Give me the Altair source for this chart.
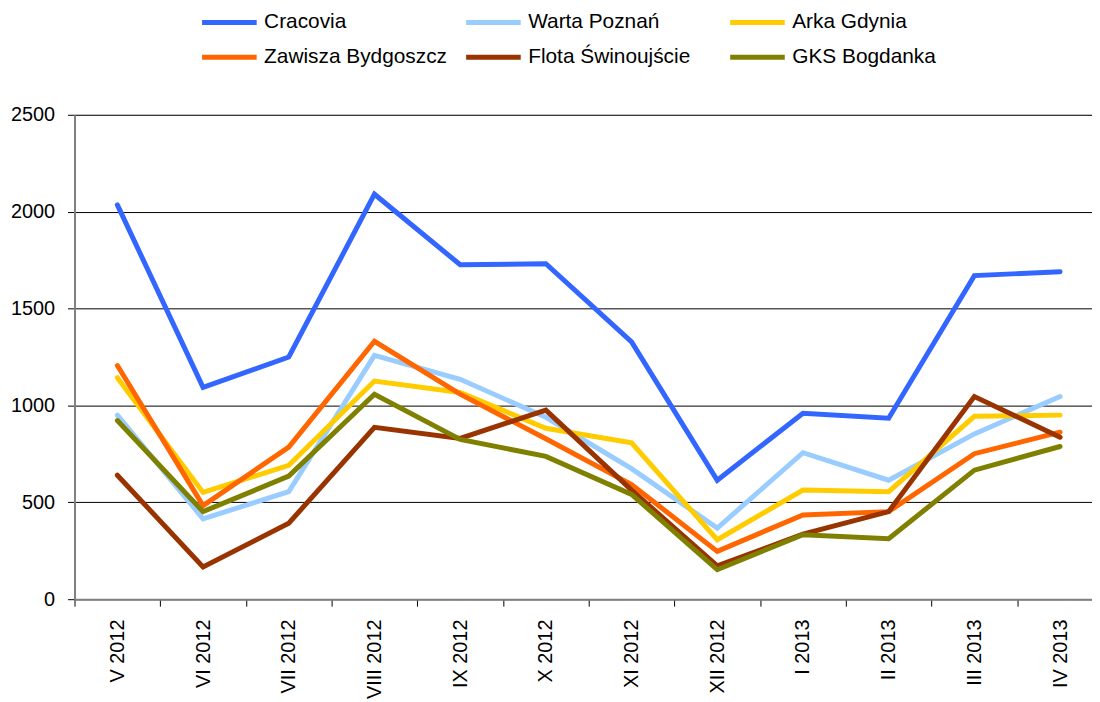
import altair as alt
import pandas as pd

months = ["V 2012", "VI 2012", "VII 2012", "VIII 2012", "IX 2012", "X 2012",
          "XI 2012", "XII 2012", "I 2013", "II 2013", "III 2013", "IV 2013"]
teams = ["Cracovia", "Warta Poznań", "Arka Gdynia",
         "Zawisza Bydgoszcz", "Flota Świnoujście", "GKS Bogdanka"]
colors = ["#3366FF", "#99CCFF", "#FFCC00", "#FF6600", "#993300", "#808000"]

cracovia = [2035, 1093, 1250, 2090, 1726, 1731, 1328, 614, 960, 934, 1670, 1690]
warta = [950, 415, 555, 1258, 1135, 939, 674, 367, 756, 614, 853, 1046]
arka = [1143, 551, 691, 1126, 1067, 882, 807, 307, 563, 555, 944, 950]
zawisza = [1206, 483, 785, 1331, 1058, 828, 592, 247, 435, 452, 751, 862]
flota = [640, 166, 392, 887, 830, 976, 563, 172, 336, 452, 1046, 836]
gks = [922, 452, 635, 1058, 825, 737, 541, 152, 333, 312, 666, 788]

series = [cracovia, warta, arka, zawisza, flota, gks]
y_ticks = [0, 500, 1000, 1500, 2000, 2500]

rows = []
for t, vals in zip(teams, series):
    for m, v in zip(months, vals):
        rows.append({"team": t, "month": m, "value": v})
df = pd.DataFrame(rows)

# legend fills column by column: reorder so the rows read as in the reference
ncols = 3
nrows = 2
legend_order = [teams[r * ncols + c] for c in range(ncols) for r in range(nrows)]
legend_colors = [colors[teams.index(t)] for t in legend_order]

FONT = "Liberation Sans"

chart = alt.Chart(df).mark_line(strokeWidth=5, strokeCap="round").encode(
    x=alt.X("month:N", sort=months,
            scale=alt.Scale(type="band", paddingInner=0, paddingOuter=0, range=[0, 1036]),
            axis=alt.Axis(title=None, labelAngle=-90, labelFontSize=20, labelColor="black",
                          labelFont=FONT, labelPadding=13, labelOverlap=False,
                          tickBand="extent", tickSize=7, tickColor="black", tickWidth=1,
                          domainColor="#808080", domainWidth=2, grid=False)),
    y=alt.Y("value:Q", scale=alt.Scale(domain=[0, 2500], nice=False),
            axis=alt.Axis(title=None, values=y_ticks, format="d", labelFontSize=20,
                          labelColor="black", labelFont=FONT, labelPadding=13, tickSize=7,
                          tickColor="black", tickWidth=1, domainColor="#808080",
                          domainWidth=2, grid=True, gridColor="black", gridWidth=1)),
    color=alt.Color("team:N",
                    scale=alt.Scale(domain=legend_order, range=legend_colors),
                    legend=alt.Legend(orient="none", legendX=126, legendY=-104, columns=ncols,
                                      gridAlign="all", columnPadding=16, rowPadding=13,
                                      clipHeight=22, symbolType="stroke", symbolSize=3025,
                                      symbolStrokeWidth=5, labelFontSize=21, labelOffset=5,
                                      labelLimit=300, labelColor="black", labelFont=FONT,
                                      title=None, padding=0)),
).properties(
    width=1025, height=488,
    autosize=alt.AutoSizeParams(type="none"),
    padding={"left": 67, "top": 105, "right": 0, "bottom": 101},
).configure_view(stroke=None).configure(font=FONT)

chart.save("out.html", embed_options={"renderer": "svg", "actions": False})
